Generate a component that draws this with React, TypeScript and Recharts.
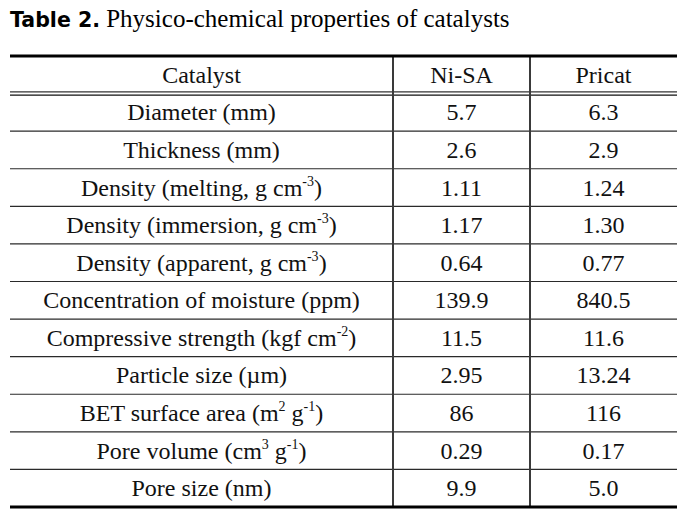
import React from "react";
import { ComposedChart, XAxis, YAxis, Scatter, ReferenceLine } from "recharts";

const headers = ["Catalyst", "Ni-SA", "Pricat"];
const properties = [
  "Diameter (mm)",
  "Thickness (mm)",
  "Density (melting, g cm^{-3})",
  "Density (immersion, g cm^{-3})",
  "Density (apparent, g cm^{-3})",
  "Concentration of moisture (ppm)",
  "Compressive strength (kgf cm^{-2})",
  "Particle size (\u00b5m)",
  "BET surface area (m^{2} g^{-1})",
  "Pore volume (cm^{3} g^{-1})",
  "Pore size (nm)",
];
const niSA = ["5.7", "2.6", "1.11", "1.17", "0.64", "139.9", "11.5", "2.95", "86", "0.29", "9.9"];
const pricat = ["6.3", "2.9", "1.24", "1.30", "0.77", "840.5", "11.6", "13.24", "116", "0.17", "5.0"];

// layout (column edges in table units)
const colEdges = [0, 383, 520, 667];
const colCenters = [0, 1, 2].map((j) => (colEdges[j] + colEdges[j + 1]) / 2);
const nRows = properties.length + 1;

const cells: { x: number; y: number; text: string }[] = [];
headers.forEach((h, j) => cells.push({ x: colCenters[j], y: 0.5, text: h }));
properties.forEach((p, i) => {
  cells.push({ x: colCenters[0], y: i + 1.5, text: p });
  cells.push({ x: colCenters[1], y: i + 1.5, text: niSA[i] });
  cells.push({ x: colCenters[2], y: i + 1.5, text: pricat[i] });
});

const FONT = "Liberation Serif, Times New Roman, Times, serif";
const FS = 24;

function renderRich(text: string) {
  const parts: React.ReactNode[] = [];
  const re = /\^\{([^}]*)\}/g;
  let last = 0;
  let m: RegExpExecArray | null;
  let k = 0;
  let shifted = false;
  while ((m = re.exec(text)) !== null) {
    if (m.index > last) {
      parts.push(
        <tspan key={k++} dy={shifted ? 10 : 0} style={{ fontSize: FS }}>
          {text.slice(last, m.index)}
        </tspan>
      );
      shifted = false;
    }
    parts.push(
      <tspan key={k++} dy={shifted ? 0 : -10} style={{ fontSize: 14 }}>
        {m[1]}
      </tspan>
    );
    shifted = true;
    last = m.index + m[0].length;
  }
  if (last < text.length) {
    parts.push(
      <tspan key={k++} dy={shifted ? 10 : 0} style={{ fontSize: FS }}>
        {text.slice(last)}
      </tspan>
    );
  }
  return parts;
}

const CellText = (props: any) => {
  const { cx, cy, payload } = props;
  if (cx == null || cy == null) return null;
  return (
    <text
      x={cx}
      y={cy + 8}
      textAnchor="middle"
      style={{ fontFamily: FONT, fontSize: FS }}
      fill="#111"
    >
      {renderRich(payload.text)}
    </text>
  );
};

const rowLines = Array.from({ length: nRows - 2 }, (_, i) => i + 2);

export default function App() {
  return (
    <div style={{ position: "absolute", left: 0, top: 0, width: 696, height: 510, background: "#fff" }}>
      <svg width={696} height={40} style={{ position: "absolute", left: 0, top: 0 }}>
        <text x={10} y={27} fill="#000">
          <tspan style={{ fontFamily: "DejaVu Sans, sans-serif", fontWeight: "bold", fontSize: 20.5 }}>
            Table 2.
          </tspan>
          <tspan style={{ fontFamily: FONT, fontSize: 25 }}>
            {" Physico-chemical properties of catalysts"}
          </tspan>
        </text>
      </svg>
      <div style={{ position: "absolute", left: 0, top: 0 }}>
        <ComposedChart
          width={696}
          height={510}
          data={cells}
          margin={{ top: 56, right: 19, bottom: 3, left: 10 }}
        >
          <XAxis type="number" dataKey="x" domain={[colEdges[0], colEdges[3]]} hide />
          <YAxis type="number" dataKey="y" domain={[0, nRows]} reversed hide />
          {rowLines.map((r) => (
            <ReferenceLine key={r} y={r} stroke="#2a2a2a" strokeWidth={1.2} />
          ))}
          <ReferenceLine y={0.955} stroke="#333" strokeWidth={1.3} />
          <ReferenceLine y={1.04} stroke="#111" strokeWidth={1.3} />
          <ReferenceLine x={colEdges[1]} stroke="#3a3a3a" strokeWidth={2} />
          <ReferenceLine x={colEdges[2]} stroke="#3a3a3a" strokeWidth={2} />
          <ReferenceLine y={0} stroke="#000" strokeWidth={3} />
          <ReferenceLine y={nRows} stroke="#000" strokeWidth={3} />
          <Scatter data={cells} dataKey="y" shape={CellText} isAnimationActive={false} />
        </ComposedChart>
      </div>
    </div>
  );
}
